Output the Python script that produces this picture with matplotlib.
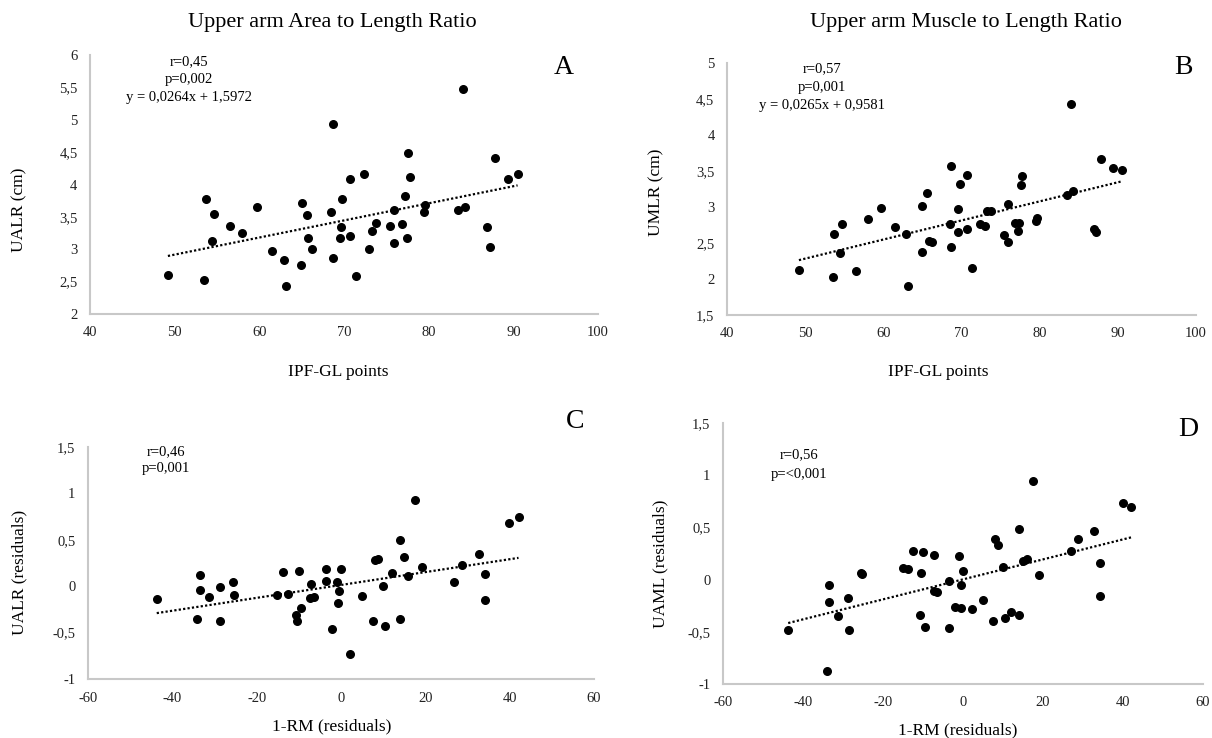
import numpy as np
import matplotlib
matplotlib.use('Agg')
import matplotlib.pyplot as plt
from matplotlib.ticker import FuncFormatter, MultipleLocator

# IPF-GL points (x of panels A and B)
ipf_points = [49.2, 53.5, 53.7, 54.4, 54.7, 56.5, 58.0, 59.7, 61.5, 62.9,
              63.2, 64.9, 65.0, 65.6, 65.8, 66.2, 68.5, 68.7, 68.7, 69.5,
              69.6, 69.8, 70.7, 70.7, 71.4, 72.4, 73.0, 73.3, 73.8, 75.4,
              75.9, 75.9, 76.9, 77.2, 77.4, 77.6, 77.8, 79.5, 79.6, 83.5,
              84.0, 84.3, 86.9, 87.2, 87.8, 89.4, 90.5]

# Upper arm area to length ratio (panel A)
ualr = [2.60, 2.53, 3.77, 3.12, 3.55, 3.36, 3.25, 3.66, 2.98, 2.84,
        2.43, 2.75, 3.72, 3.53, 3.17, 3.00, 3.57, 4.93, 2.86, 3.17,
        3.35, 3.77, 3.20, 4.08, 2.58, 4.16, 3.01, 3.28, 3.40, 3.36,
        3.09, 3.60, 3.39, 3.83, 3.18, 4.49, 4.12, 3.57, 3.68, 3.61,
        5.47, 3.66, 3.35, 3.03, 4.41, 4.08, 4.16]

# Upper arm muscle to length ratio (panel B)
umlr = [2.12, 2.03, 2.63, 2.36, 2.76, 2.11, 2.83, 2.99, 2.72, 2.63,
        1.90, 2.37, 3.01, 3.20, 2.53, 2.51, 2.77, 3.57, 2.45, 2.65,
        2.97, 3.32, 2.70, 3.45, 2.15, 2.77, 2.73, 2.94, 2.95, 2.61,
        2.52, 3.04, 2.78, 2.66, 2.78, 3.31, 3.43, 2.81, 2.85, 3.17,
        4.43, 3.22, 2.70, 2.65, 3.67, 3.54, 3.51]

# 1-RM residuals (x of panels C and D)
rm_resid = [-43.7, -34.1, -33.5, -33.4, -31.3, -28.8, -28.6, -25.5, -25.3, -15.1,
            -13.7, -12.5, -10.7, -10.5, -10.0, -9.5, -7.2, -7.3, -6.4, -3.6,
            -3.6, -2.1, -1.0, -0.5, -0.6, 0.1, 2.2, 5.0, 7.6, 8.1,
            8.8, 9.9, 10.4, 12.1, 14.0, 14.0, 14.9, 15.9, 17.5, 19.1,
            26.9, 28.8, 32.7, 34.2, 34.2, 39.9, 42.1]

# UALR residuals (panel C)
ualr_resid = [-0.14, -0.35, 0.12, -0.04, -0.12, -0.01, -0.37, 0.05, -0.10, -0.10,
              0.15, -0.08, -0.31, -0.37, 0.16, -0.24, 0.02, -0.13, -0.12, 0.19,
              0.06, -0.46, 0.04, -0.05, -0.18, 0.18, -0.73, -0.11, -0.37, 0.28,
              0.29, 0.00, -0.43, 0.14, 0.50, -0.35, 0.31, 0.11, 0.93, 0.21,
              0.05, 0.23, 0.35, 0.13, -0.15, 0.68, 0.75]

# UAML residuals (panel D)
uaml_resid = [-0.48, -0.88, -0.05, -0.21, -0.35, -0.18, -0.48, 0.06, 0.05, 0.11,
              0.10, 0.27, -0.34, 0.06, 0.26, -0.45, 0.24, -0.11, -0.12, -0.46,
              -0.01, -0.26, 0.23, -0.27, -0.05, 0.08, -0.28, -0.20, -0.40, 0.39,
              0.33, 0.12, -0.37, -0.31, 0.48, -0.34, 0.18, 0.20, 0.94, 0.04,
              0.27, 0.39, 0.47, 0.16, -0.16, 0.73, 0.70]

# Excel trendline equations shown on A and B
fit_a = (0.0264, 1.5972)
fit_b = (0.0265, 0.9581)

W, H = 1212, 738
plt.rcParams['font.family'] = ['Liberation Serif', 'DejaVu Serif']
fig = plt.figure(figsize=(W / 100, H / 100), dpi=100)


def px_box(x0, x1, y0, y1):
    # pixel box (left, right, top, bottom) -> figure fraction rect
    return [x0 / W, 1 - y1 / H, (x1 - x0) / W, (y1 - y0) / H]


def ftext(x, y, s, **kw):
    fig.text(x / W, 1 - y / H, s, ha='center', va='center', **kw)


comma = FuncFormatter(lambda v, pos: ('%g' % round(v, 2)).replace('.', ','))


def setup(ax, xlim, xstep, ylim, ystep):
    ax.set_xlim(xlim)
    ax.set_ylim(ylim)
    ax.xaxis.set_major_locator(MultipleLocator(xstep))
    ax.yaxis.set_major_locator(MultipleLocator(ystep))
    ax.xaxis.set_major_formatter(comma)
    ax.yaxis.set_major_formatter(comma)
    for s in ['top', 'right']:
        ax.spines[s].set_visible(False)
    for s in ['left', 'bottom']:
        ax.spines[s].set_color('#c8c8c8')
        ax.spines[s].set_linewidth(1.5)
    ax.tick_params(length=0, pad=9, labelsize=10.5, colors='#222222')


def draw(ax, x, y, slope, icpt):
    x = np.array(x)
    ax.scatter(x, y, s=30, color='black', zorder=3, clip_on=False)
    xs = np.array([x.min(), x.max()])
    ax.plot(xs, slope * xs + icpt, color='black', lw=1.6,
            linestyle=(0, (1, 1)), zorder=2)


# Panel A
ax_a = fig.add_axes(px_box(90, 598, 55, 314))
setup(ax_a, (40, 100), 10, (2, 6), 0.5)
draw(ax_a, ipf_points, ualr, *fit_a)

# Panel B
ax_b = fig.add_axes(px_box(727, 1196, 63, 315))
setup(ax_b, (40, 100), 10, (1.5, 5), 0.5)
draw(ax_b, ipf_points, umlr, *fit_b)

# Panel C, line fitted from the residuals
ax_c = fig.add_axes(px_box(88, 594, 447, 679))
setup(ax_c, (-60, 60), 20, (-1, 1.5), 0.5)
draw(ax_c, rm_resid, ualr_resid, *np.polyfit(rm_resid, ualr_resid, 1))

# Panel D
ax_d = fig.add_axes(px_box(723, 1203, 423, 684))
setup(ax_d, (-60, 60), 20, (-1, 1.5), 0.5)
draw(ax_d, rm_resid, uaml_resid, *np.polyfit(rm_resid, uaml_resid, 1))

# titles and panel letters
ftext(332, 22, 'Upper arm Area to Length Ratio', fontsize=16)
ftext(966, 22, 'Upper arm Muscle to Length Ratio', fontsize=16)
for (lx, ly, lt) in [(564, 68, 'A'), (1183, 67, 'B'), (575, 422, 'C'), (1188, 429, 'D')]:
    ftext(lx, ly, lt, fontsize=20)

# stats annotations
ann = 10.5
ftext(189, 62, 'r=0,45', fontsize=ann)
ftext(189, 80, 'p=0,002', fontsize=ann)
ftext(189, 98, 'y = 0,0264x + 1,5972', fontsize=ann)
ftext(822, 69, 'r=0,57', fontsize=ann)
ftext(822, 87, 'p=0,001', fontsize=ann)
ftext(822, 105, 'y = 0,0265x + 0,9581', fontsize=ann)
ftext(166, 452, 'r=0,46', fontsize=ann)
ftext(166, 469, 'p=0,001', fontsize=ann)
ftext(799, 455, 'r=0,56', fontsize=ann)
ftext(799, 474, 'p=<0,001', fontsize=ann)

# axis labels
lab = 12.5
ftext(338, 372, 'IPF-GL points', fontsize=lab)
ftext(938, 372, 'IPF-GL points', fontsize=lab)
ftext(332, 726, '1-RM (residuals)', fontsize=lab)
ftext(958, 730, '1-RM (residuals)', fontsize=lab)
ftext(19, 210, 'UALR (cm)', fontsize=lab, rotation=90)
ftext(656, 192, 'UMLR (cm)', fontsize=lab, rotation=90)
ftext(19, 572, 'UALR (residuals)', fontsize=lab, rotation=90)
ftext(660, 564, 'UAML (residuals)', fontsize=lab, rotation=90)

fig.savefig('out.png', dpi=100, facecolor='white')
